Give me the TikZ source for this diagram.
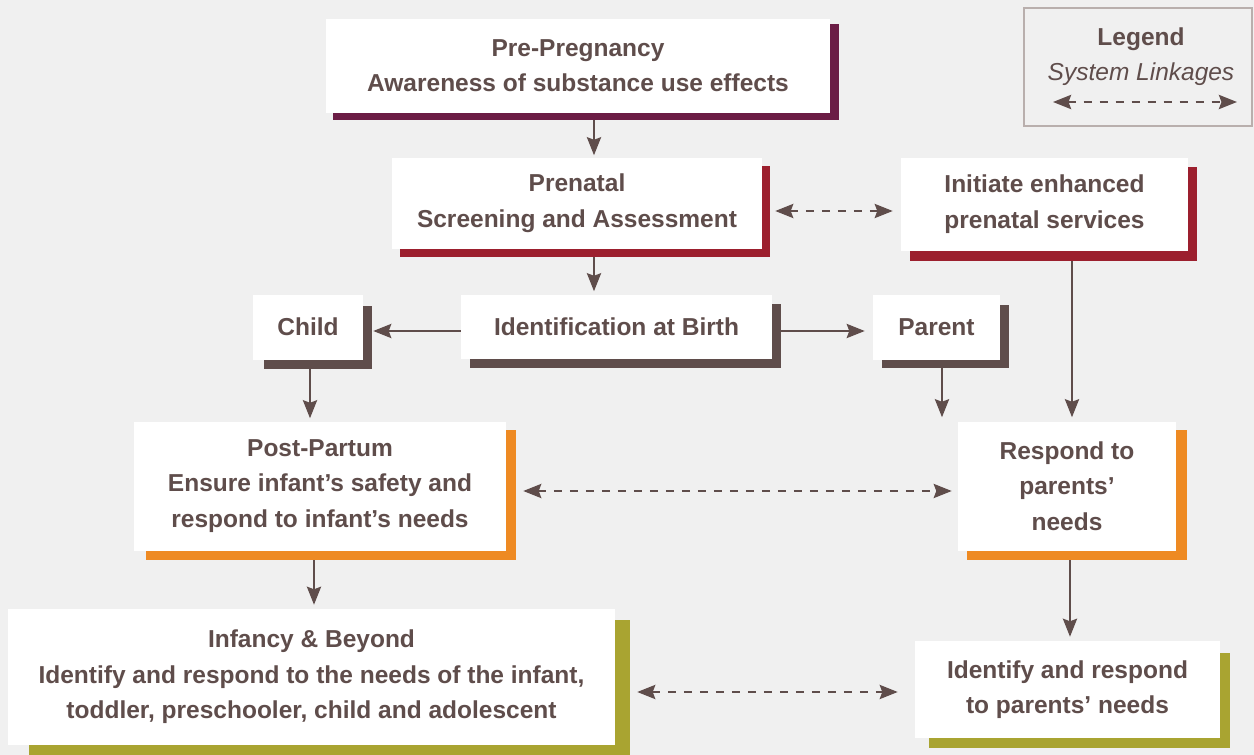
\documentclass[tikz,border=0pt]{standalone}
\usepackage{fontspec}
\setmainfont{Liberation Sans}
\usetikzlibrary{arrows.meta,calc}
\definecolor{bg}{HTML}{F0F0F0}
\definecolor{txt}{HTML}{5F4D4B}
\definecolor{cPurple}{HTML}{6B1D45}
\definecolor{cCrimson}{HTML}{9C1F2E}
\definecolor{cBrown}{HTML}{5F4D4B}
\definecolor{cOrange}{HTML}{EE8A23}
\definecolor{cOlive}{HTML}{A9A431}
\definecolor{cLegend}{HTML}{B9AFAD}
\tikzset{
  box/.style={fill=white, inner sep=0pt, align=center, text=txt,
    font=\fontsize{24.5}{35.5}\selectfont\bfseries},
  shadowbox/.style={inner sep=0pt},
  tipA/.tip={Stealth[length=18pt,width=14pt,inset=2.5pt]},
  arr/.style={draw=txt, line width=2.8pt, -tipA},
  darr/.style={draw=txt, line width=2.8pt, dash pattern=on 8pt off 8pt, tipA-tipA},
}
\begin{document}
\begin{tikzpicture}[x=1pt,y=-1pt]
\fill[bg] (0,0) rectangle (1254,755);
\useasboundingbox (0,0) rectangle (1254,755);

% shadows
\node[shadowbox, fill=cPurple, minimum width=506pt, minimum height=96pt] (preS) at (586,72) {};
\node[shadowbox, fill=cCrimson, minimum width=370pt, minimum height=91pt] (prenS) at (585,211.5) {};
\node[shadowbox, fill=cCrimson, minimum width=287pt, minimum height=94pt] (initS) at (1053.5,214) {};
\node[shadowbox, fill=cBrown, minimum width=311pt, minimum height=64pt] (identS) at (625.5,336) {};
\node[shadowbox, fill=cBrown, minimum width=108pt, minimum height=63pt] (childS) at (318,337.5) {};
\node[shadowbox, fill=cBrown, minimum width=127pt, minimum height=63pt] (parentS) at (945.5,336.5) {};
\node[shadowbox, fill=cOrange, minimum width=370pt, minimum height=130pt] (postS) at (331,495) {};
\node[shadowbox, fill=cOrange, minimum width=220pt, minimum height=130pt] (respS) at (1077,495) {};
\node[shadowbox, fill=cOlive, minimum width=601pt, minimum height=140pt] (infS) at (329.5,690) {};
\node[shadowbox, fill=cOlive, minimum width=301pt, minimum height=95pt] (idrS) at (1079.5,700.5) {};

% white boxes
\node[box, minimum width=504pt, minimum height=94pt] (pre) at (578,65.5)
  {Pre-Pregnancy\\Awareness of substance use effects};
\node[box, minimum width=370pt, minimum height=91pt] (pren) at (577,203)
  {Prenatal\\Screening and Assessment};
\node[box, minimum width=287pt, minimum height=93pt] (init) at (1044.5,204)
  {Initiate enhanced\\prenatal services};
\node[box, minimum width=311pt, minimum height=64pt] (ident) at (616.5,326.5)
  {Identification at Birth};
\node[box, minimum width=110pt, minimum height=65pt] (child) at (308,327)
  {Child};
\node[box, minimum width=127pt, minimum height=65pt] (parent) at (936.5,327)
  {Parent};
\node[box, minimum width=372pt, minimum height=129pt] (post) at (320,486)
  {Post-Partum\\Ensure infant’s safety and\\respond to infant’s needs};
\node[box, minimum width=218pt, minimum height=129pt] (resp) at (1067,486)
  {Respond to\\parents’\\needs};
\node[box, minimum width=607pt, minimum height=136pt] (inf) at (311.5,677)
  {Infancy \& Beyond\\Identify and respond to the needs of the infant,\\toddler, preschooler, child and adolescent};
\node[box, minimum width=305pt, minimum height=97pt] (idr) at (1067.5,689.5)
  {Identify and respond\\to parents’ needs};

% legend
\node[draw=cLegend, line width=2pt, fill=bg, minimum width=228pt, minimum height=118pt, inner sep=0pt] (legend) at (1138,67) {};
\node[text=txt, font=\fontsize{24.5}{30}\selectfont\bfseries] (legT) at (1141,39) {Legend};
\node[text=txt, font=\fontsize{24.5}{30}\selectfont\itshape] (legS) at (1141,74) {System Linkages};
\coordinate (lgA) at (1053,102);
\coordinate (lgB) at (1237,102);
\draw[darr] (lgA) -- (lgB);

% solid arrows
\draw[arr, shorten >=2pt] ($(preS.south)+(8,0)$) -- ($(pren.north)+(17,0)$);
\draw[arr, shorten >=3pt] ($(prenS.south)+(9,0)$) -- ($(ident.north)+(-22.5,0)$);
\draw[arr, shorten >=1pt] ($(ident.west)+(0,4.5)$) -- ($(childS.east)+(0,-6.5)$);
\draw[arr, shorten >=8pt] ($(identS.east)+(0,-5)$) -- ($(parent.west)+(0,4)$);
\draw[arr, shorten >=3pt] ($(childS.south)+(-8,0)$) -- ($(post.north)+(-10,0)$);
\draw[arr, shorten >=4pt] ($(parentS.south)+(-3.5,0)$) -- ($(resp.north)+(-125,0)$);
\draw[arr, shorten >=4pt] ($(initS.south)+(18.5,0)$) -- ($(resp.north)+(5,0)$);
\draw[arr, shorten >=4pt] ($(postS.south)+(-17,0)$) -- ($(inf.north)+(2.5,0)$);
\draw[arr, shorten >=4pt] ($(respS.south)+(-7,0)$) -- ($(idr.north)+(2.5,0)$);

% dashed linkages
\draw[darr, shorten <=5pt, shorten >=8pt] ($(prenS.east)+(0,-0.5)$) -- ($(init.west)+(0,7)$);
\draw[darr, shorten <=7pt, shorten >=6pt] ($(postS.east)+(0,-4)$) -- ($(resp.west)+(0,5)$);
\draw[darr, shorten <=7pt, shorten >=17pt] ($(infS.east)+(0,2)$) -- ($(idr.west)+(0,2.5)$);
\end{tikzpicture}
\end{document}
